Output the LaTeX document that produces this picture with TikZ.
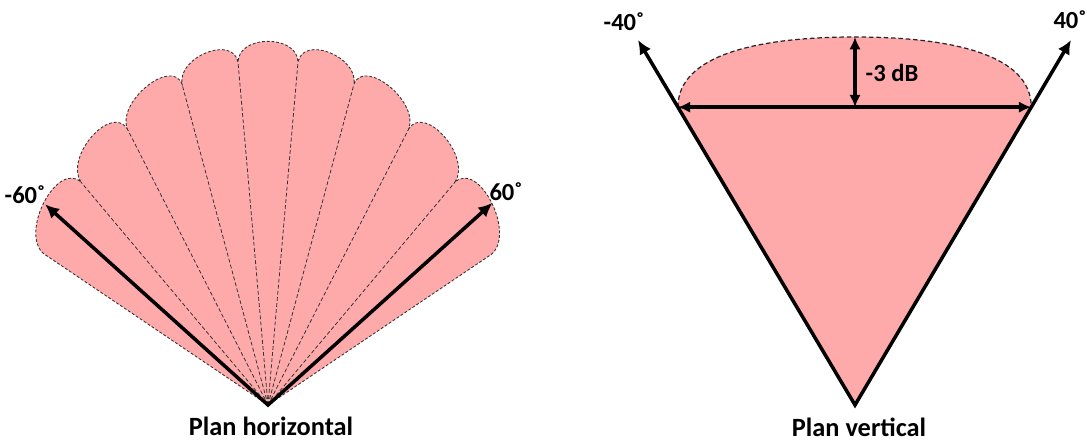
\documentclass[tikz,border=0pt]{standalone}
\usepackage{fontspec}
\setmainfont{Carlito}
\usepackage{tikz}
\usetikzlibrary{arrows.meta, positioning, calc}
\definecolor{beampink}{RGB}{255, 170, 170}

\begin{document}
\begin{tikzpicture}[x=0.02cm, y=0.02cm,
    lobe/.style={fill=beampink, draw=black!80, line width=0.5pt,
                 dash pattern=on 1.6pt off 1.1pt},
    split/.style={draw=black!80, line width=0.45pt, dash pattern=on 2.2pt off 1.3pt},
    capline/.style={draw=black!85, line width=0.7pt, dash pattern=on 2.6pt off 1.6pt},
    beam/.style={draw=black, line width=2pt, line join=miter,
                 {Latex[length=8pt,width=7.5pt]}-{Latex[length=8pt,width=7.5pt]}},
    span/.style={draw=black, line width=2pt,
                 {Latex[length=7pt,width=6.5pt]}-{Latex[length=7pt,width=6.5pt]}},
    anglelabel/.style={font=\bfseries\fontsize{14}{16}\selectfont, inner sep=0pt},
    caption/.style={font=\bfseries\fontsize{15}{18}\selectfont, inner sep=0pt}
]
    \useasboundingbox (0,0) rectangle (1087,442);

    % plan horizontal: fan of beams
    \coordinate (apexH) at (268,37);
    \begin{scope}[shift={(apexH)}]
        \path[lobe] (0,0) -- (146:271)
            .. controls +(138:32) and +(138:32) .. (130:291)
            .. controls +(123.5:30) and +(123.5:30) .. (117:310)
            .. controls +(111:29) and +(111:29) .. (105:332)
            .. controls +(100:28) and +(100:28) .. (95:344)
            .. controls +(90:28) and +(90:28) .. (85:344)
            .. controls +(80:28) and +(80:28) .. (75:332)
            .. controls +(69:29) and +(69:29) .. (63:310)
            .. controls +(56.5:30) and +(56.5:30) .. (50:291)
            .. controls +(42:32) and +(42:32) .. (34:270)
            -- cycle;
        \foreach \a/\r in {130/291, 117/310, 105/332, 95/344, 85/344, 75/332, 63/310, 50/291}
            \draw[split] (0,0) -- (\a:\r);
        \coordinate (tipHL) at (138:300);
        \coordinate (tipHR) at (42:302);
    \end{scope}
    \draw[beam] (tipHL) -- (apexH) -- (tipHR);
    \node[anglelabel] (degHL) at (25,247) {-60˚};
    \node[anglelabel] (degHR) at (506,250) {60˚};
    \node[caption] (planH) at (271,16) {Plan horizontal};

    % plan vertical: cone
    \coordinate (apexV) at (855,37);
    \coordinate (tipVL) at (638,402);
    \coordinate (tipVR) at (1071,402);
    \coordinate (capL) at ($(apexV)!0.816!(tipVL)$);
    \coordinate (capR) at ($(apexV)!0.816!(tipVR)$);
    \coordinate (capTop) at (855,405);
    \coordinate (capMid) at (capTop |- capL);
    \fill[beampink] (apexV) -- (capL)
        .. controls +(0,53) and +(-95,0) .. (capTop)
        .. controls +(95,0) and +(0,53) .. (capR) -- cycle;
    \draw[capline] (capL)
        .. controls +(0,53) and +(-95,0) .. (capTop)
        .. controls +(95,0) and +(0,53) .. (capR);
    \draw[span] (capL) -- (capR);
    \draw[span] (capTop) -- (capMid);
    \draw[beam] (tipVL) -- (apexV) -- (tipVR);
    \node[anglelabel] (dB) at (892,369) {-3 dB};
    \node[anglelabel] (degVL) at (624,420) {-40˚};
    \node[anglelabel] (degVR) at (1070,422) {40˚};
    \node[caption] (planV) at (859,15) {Plan vertical};
\end{tikzpicture}
\end{document}
